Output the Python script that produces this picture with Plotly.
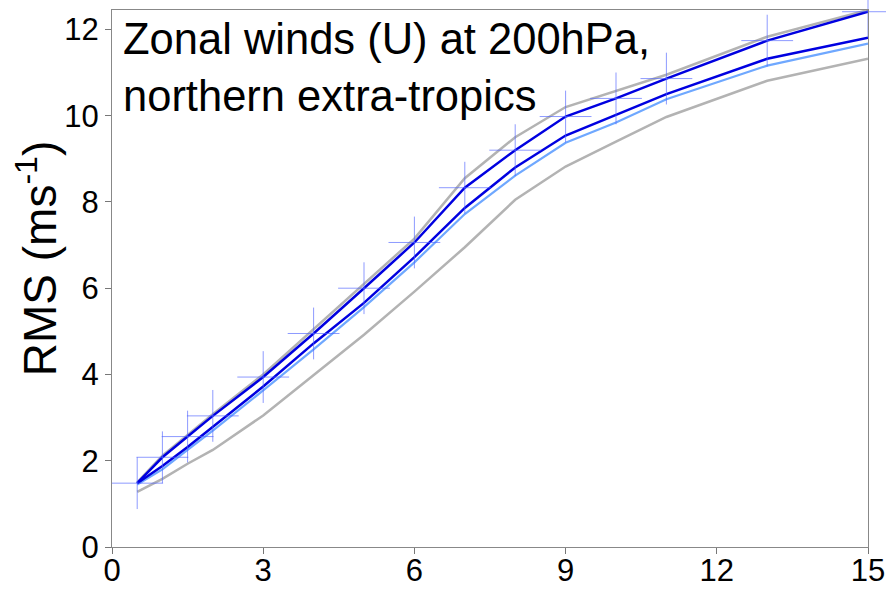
import plotly.graph_objects as go

lead_days = [0.5, 1, 1.5, 2, 3, 4, 5, 6, 7, 8, 9, 10, 11, 13, 15]

gray_upper = [1.50, 2.12, 2.60, 3.08, 4.00, 5.05, 6.10, 7.15, 8.55, 9.50, 10.20, 10.58, 10.95, 11.83, 12.45]
gray_lower = [1.28, 1.58, 1.93, 2.25, 3.05, 3.98, 4.92, 5.92, 6.95, 8.05, 8.82, 9.40, 9.97, 10.81, 11.32]
light_blue = [1.45, 1.80, 2.25, 2.70, 3.63, 4.58, 5.56, 6.60, 7.72, 8.61, 9.37, 9.84, 10.38, 11.16, 11.67]
blue_lower = [1.48, 1.88, 2.32, 2.78, 3.72, 4.72, 5.66, 6.72, 7.86, 8.80, 9.54, 10.02, 10.50, 11.32, 11.81]
blue_upper = [1.48, 2.08, 2.56, 3.04, 3.94, 4.95, 6.00, 7.06, 8.33, 9.20, 9.98, 10.40, 10.86, 11.74, 12.41]

title_lines = ["Zonal winds (U) at 200hPa,", "northern extra-tropics"]
y_title = "RMS (ms<sup>-1</sup>)"
x_ticks = [0, 3, 6, 9, 12, 15]
y_ticks = [0, 2, 4, 6, 8, 10, 12]

fig = go.Figure()
fig.add_trace(go.Scatter(x=lead_days, y=gray_upper, mode="lines",
                         line=dict(color="#b3b3b3", width=2.5), showlegend=False))
fig.add_trace(go.Scatter(x=lead_days, y=gray_lower, mode="lines",
                         line=dict(color="#b3b3b3", width=2.5), showlegend=False))
fig.add_trace(go.Scatter(x=lead_days, y=light_blue, mode="lines",
                         line=dict(color="#6fa8ff", width=2.2), showlegend=False))
fig.add_trace(go.Scatter(x=lead_days, y=blue_lower, mode="lines",
                         line=dict(color="#0000e0", width=2.5), showlegend=False))
fig.add_trace(go.Scatter(x=lead_days, y=blue_upper, mode="lines+markers",
                         line=dict(color="#0000e0", width=2.5),
                         marker=dict(symbol="cross-thin", size=37,
                                     line=dict(color="rgba(80,100,255,0.65)", width=1)),
                         cliponaxis=False, showlegend=False))

fig.add_annotation(text="<br>".join(title_lines), xref="paper", yref="paper",
                   x=0.012, y=0.995, xanchor="left", yanchor="top", align="left",
                   showarrow=False, font=dict(family="Liberation Sans", size=43.5, color="black"))

fig.add_annotation(text=y_title, xref="paper", yref="paper",
                   x=-0.099, y=0.538, xanchor="center", yanchor="middle", textangle=-90,
                   showarrow=False, font=dict(family="Liberation Sans", size=46, color="black"))

fig.update_xaxes(range=[0, 15], tickvals=x_ticks, ticks="outside", ticklen=6,
                 tickcolor="#777", showline=True, linecolor="#888", linewidth=1,
                 mirror=True, showgrid=False, zeroline=False, automargin=False,
                 ticklabelstandoff=-10,
                 tickfont=dict(family="Liberation Sans", size=31, color="black"))
fig.update_yaxes(range=[0, 12.45], tickvals=y_ticks, ticks="outside", ticklen=6,
                 tickcolor="#777", showline=True, linecolor="#888", linewidth=1,
                 mirror=True, showgrid=False, zeroline=False, automargin=False,
                 tickfont=dict(family="Liberation Sans", size=31, color="black"))

fig.update_layout(width=886, height=589, margin=dict(l=112, r=18, t=10, b=42),
                  plot_bgcolor="white", paper_bgcolor="white")
fig.write_html("out.html")
